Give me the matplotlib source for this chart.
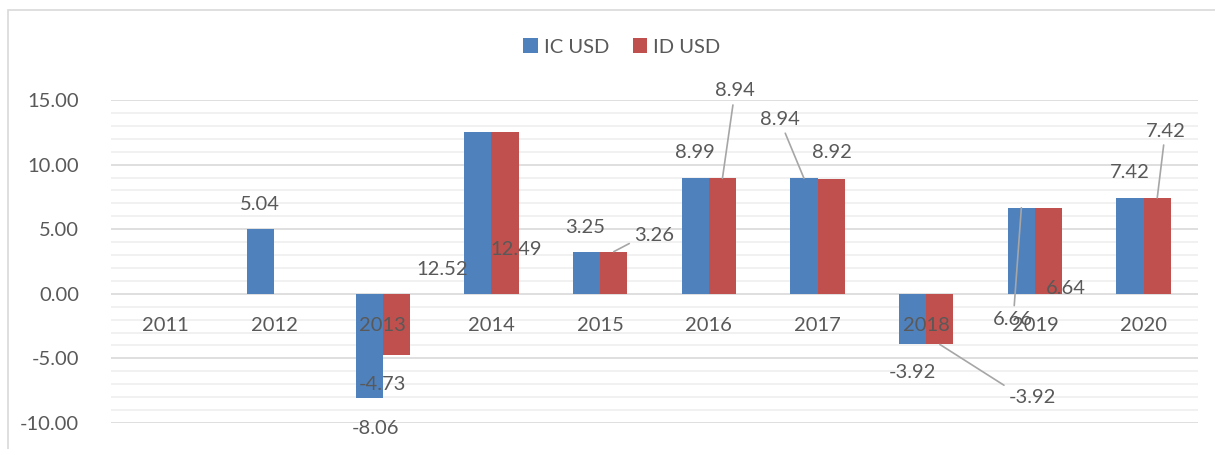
import matplotlib
matplotlib.use("Agg")
import matplotlib.pyplot as plt
from matplotlib.patches import Rectangle
from matplotlib.ticker import MultipleLocator
import numpy as np

# data
years = ['2011', '2012', '2013', '2014', '2015', '2016', '2017', '2018', '2019', '2020']
ic_usd = [np.nan, 5.04, -8.06, 12.52, 3.25, 8.99, 8.94, -3.92, 6.66, 7.42]
id_usd = [np.nan, np.nan, -4.73, 12.49, 3.26, 8.94, 8.92, -3.92, 6.64, 7.42]

# where Excel put the data labels (data coords), and the kind of leader line
# '' = none, 'line' = straight, 'elbow' = short horizontal stub then straight
ic_lab = [None, (0.87, 6.9), (1.93, -10.4), (2.55, 1.85), (3.86, 5.1),
          (4.87, 10.9), (5.65, 13.5), (6.87, -6.1), (7.80, -2.0), (8.87, 9.35)]
ic_lead = ['', '', '', '', '', '', 'line', '', 'line', '']
id_lab = [None, None, (2.00, -7.05), (3.23, 3.4), (4.50, 4.55),
          (5.24, 15.7), (6.13, 10.9), (7.98, -8.05), (8.28, 0.4), (9.20, 12.6)]
id_lead = ['', '', '', '', 'elbow', 'line', '', 'elbow', '', 'line']

BLUE = '#4F81BD'
RED = '#C0504D'
TXT = '#595959'
FONT = 'Lato'
FS = 14.5

plt.rcParams['font.family'] = [FONT, 'DejaVu Sans']

fig = plt.figure(figsize=(12.15, 4.49), dpi=100)
W, H = 1215, 449

# chart frame
fig.patches.append(Rectangle((8 / W, -0.1), 1.2, 1 - 10 / H + 0.1, transform=fig.transFigure,
                             fill=False, edgecolor='#D9D9D9', linewidth=1.2))

ax = fig.add_axes([111 / W, (H - 423) / H, (1198 - 111) / W, 323 / H])
x = np.arange(len(years))
bw = 0.25
ax.bar(x - bw / 2, ic_usd, bw, color=BLUE, label='IC USD', zorder=3)
ax.bar(x + bw / 2, id_usd, bw, color=RED, label='ID USD', zorder=3)

ax.set_xlim(-0.5, len(years) - 0.5)
ax.set_ylim(-10, 15)
ax.yaxis.set_major_locator(MultipleLocator(5))
ax.yaxis.set_minor_locator(MultipleLocator(1))
ax.yaxis.set_major_formatter(lambda v, p: f'{v:.2f}')
ax.grid(axis='y', which='minor', color='#EFEFEF', linewidth=1.2, zorder=0)
ax.grid(axis='y', which='major', color='#D9D9D9', linewidth=1.2, zorder=1)
ax.tick_params(axis='y', which='both', length=0, pad=23, labelsize=FS, labelcolor=TXT)
ax.set_xticks([])
for s in ax.spines.values():
    s.set_visible(False)

# category labels sit just below the zero line
for i, yr in enumerate(years):
    ax.annotate(yr, (i, 0), xytext=(0, -22.5), textcoords='offset points',
                ha='center', va='center', fontsize=FS, color=TXT, zorder=4)


def put_labels(vals, labs, leads, dx):
    for i, v in enumerate(vals):
        if labs[i] is None or np.isnan(v):
            continue
        arrow = None
        if leads[i]:
            arrow = dict(arrowstyle='-', color='#A6A6A6', linewidth=1.2,
                         shrinkA=2, shrinkB=0)
            if leads[i] == 'elbow':
                arrow['connectionstyle'] = 'arc,angleA=180,angleB=0,armA=9,armB=0,rad=0'
        ax.annotate(f'{v:.2f}', (i + dx, v), xytext=labs[i], textcoords='data',
                    ha='center', va='center', fontsize=FS, color=TXT,
                    arrowprops=arrow, annotation_clip=False, zorder=5)


put_labels(ic_usd, ic_lab, ic_lead, -bw / 2)
put_labels(id_usd, id_lab, id_lead, bw / 2)

fig.legend(loc='center', bbox_to_anchor=(622 / W, 1 - 47 / H), ncol=2, frameon=False,
           fontsize=FS, labelcolor=TXT, handlelength=0.7, handleheight=0.7,
           handletextpad=0.3, columnspacing=1.2)

fig.savefig('out.png', dpi=100)
